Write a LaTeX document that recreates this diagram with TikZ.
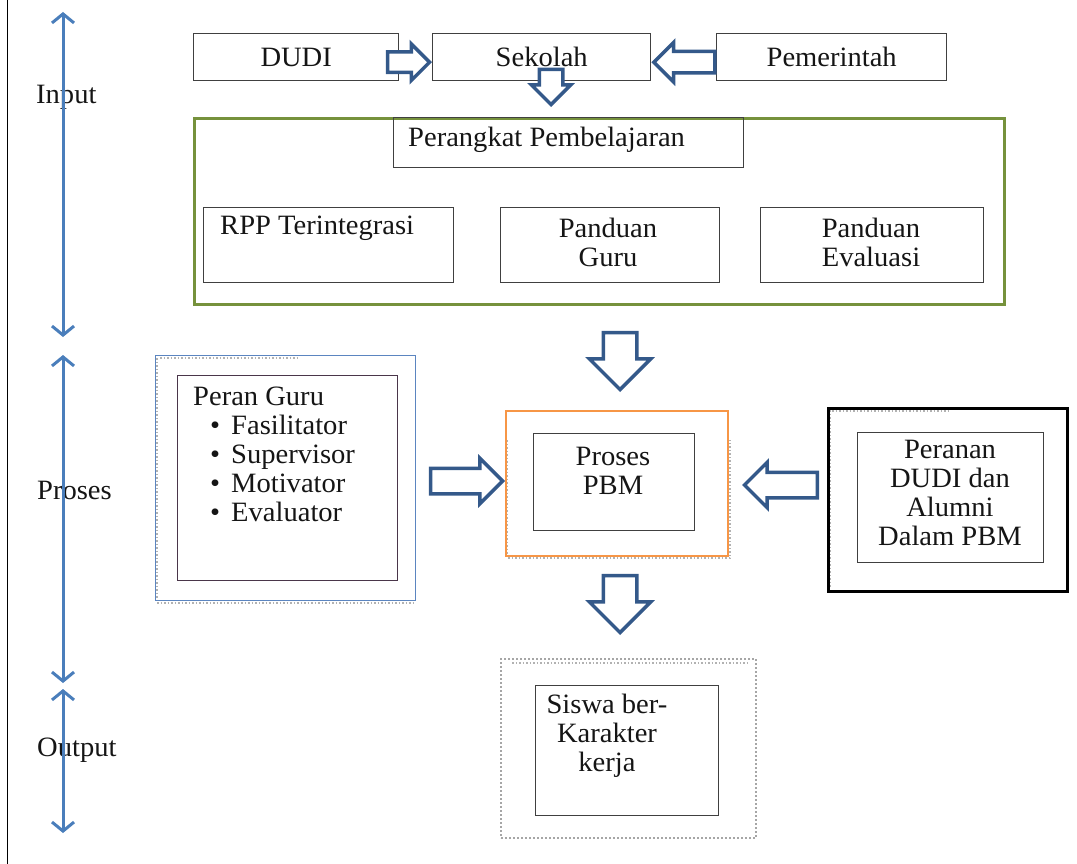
\documentclass[tikz,border=0pt]{standalone}
\usepackage{fontspec}
\setmainfont{Liberation Serif}[FakeStretch=1.02]
\usetikzlibrary{arrows.meta,shapes.arrows}
\definecolor{axisblue}{HTML}{4A7EBB}
\definecolor{arrowblue}{HTML}{34598A}
\definecolor{boxgray}{HTML}{404040}
\definecolor{greenframe}{HTML}{76923C}
\definecolor{orangeframe}{HTML}{F79646}
\definecolor{blueframe}{HTML}{5B85C0}
\definecolor{txt}{HTML}{151515}
\tikzset{
  box/.style={draw=boxgray, line width=1.4pt, rectangle, inner sep=0pt, anchor=north west},
  lbl/.style={inner sep=0pt, text=txt, align=center},
  axis/.style={draw=axisblue, line width=3pt, {Straight Barb[length=9pt,width=22pt]}-{Straight Barb[length=9pt,width=22pt]}},
  barrow/.style={single arrow, draw=arrowblue, fill=white, line width=3.5pt, anchor=tip, single arrow head indent=0pt},
  shadowdots/.style={draw=gray!60, line width=1.5pt, dotted},
}
\begin{document}
\begin{tikzpicture}[x=1pt,y=-1pt, font=\fontsize{28}{29}\selectfont]
\useasboundingbox (0,0) rectangle (1077,864);
\draw[black, line width=1pt] (7,0) -- (7,864);

% left labels
\node[lbl, anchor=west] (linput) at (36,97) {Input};
\node[lbl, anchor=west] (lproses) at (37,490) {Proses};
\node[lbl, anchor=west] (loutput) at (37,750) {Output};

% axis arrows
\coordinate (ax1) at (63,12);
\coordinate (ax2) at (63,337);
\coordinate (ax3) at (63,355);
\coordinate (ax4) at (63,683);
\coordinate (ax5) at (63,689);
\coordinate (ax6) at (63,833);
\draw[axis] (ax1) -- (ax2);
\draw[axis] (ax3) -- (ax4);
\draw[axis] (ax5) -- (ax6);

% input row
\node[box, minimum width=205pt, minimum height=47pt] (dudi) at (193,33) {};
\node[lbl] (tdudi) at (dudi.center) {DUDI};
\node[box, minimum width=218pt, minimum height=47pt] (sekolah) at (432,33) {};
\node[lbl] (tsekolah) at (sekolah.center) {Sekolah};
\node[box, minimum width=230pt, minimum height=47pt] (pemerintah) at (716,33) {};
\node[lbl] (tpemerintah) at (pemerintah.center) {Pemerintah};

% green frame
\node[box, draw=greenframe, line width=3pt, minimum width=810pt, minimum height=186pt] (green) at (193,117) {};
\node[box, minimum width=350pt, minimum height=50pt] (perangkat) at (393,117) {};
\node[lbl, anchor=west] (tperangkat) at (408,140) {Perangkat Pembelajaran};
\node[box, minimum width=250pt, minimum height=75pt] (rpp) at (203,207) {};
\node[lbl, anchor=west] (trpp) at (220,228) {RPP Terintegrasi};
\node[box, minimum width=219pt, minimum height=75pt] (pguru) at (500,207) {};
\node[lbl] (tpguru) at (608,242) {Panduan\\Guru};
\node[box, minimum width=223pt, minimum height=75pt] (peval) at (760,207) {};
\node[lbl] (tpeval) at (871,242) {Panduan\\Evaluasi};

% block arrows top
\node[barrow, minimum height=42pt, inner sep=8.5pt, single arrow head extend=8pt] (a1) at ([yshift=-5pt]sekolah.west) {};
\node[barrow, shape border rotate=180, minimum height=61pt, inner sep=9pt, single arrow head extend=9pt] (a2) at ([yshift=-5pt]sekolah.east) {};
\node[barrow, shape border rotate=270, minimum height=27pt, inner sep=10pt, single arrow head extend=8pt] (a3) at (551,107) {};

% proses row
\draw[shadowdots] (157,358) -- (157,603) -- (413,603);
\draw[shadowdots] (160,358) -- (300,358);
\node[box, draw=blueframe, line width=1.4pt, minimum width=260pt, minimum height=245pt] (guruout) at (155,355) {};
\node[box, draw=boxgray!85!violet, minimum width=220pt, minimum height=205pt] (guruin) at (177,375) {};
\node[lbl, anchor=west, align=left] (tguru) at (193,454) {Peran Guru\\
\hspace*{17pt}\textbullet\hspace*{11pt}Fasilitator\\
\hspace*{17pt}\textbullet\hspace*{11pt}Supervisor\\
\hspace*{17pt}\textbullet\hspace*{11pt}Motivator\\
\hspace*{17pt}\textbullet\hspace*{11pt}Evaluator};

\draw[shadowdots] (507,440) -- (507,558) -- (730,558) -- (730,440);
\node[box, draw=orangeframe, line width=2pt, minimum width=222pt, minimum height=145pt] (pbmout) at (505,410) {};
\node[box, minimum width=161pt, minimum height=97pt] (pbmin) at (533,433) {};
\node[lbl] (tpbm) at (613,471) {Proses\\PBM};

\draw[shadowdots] (830,410) -- (830,588);
\draw[shadowdots] (832,411) -- (950,411);
\node[box, draw=black, line width=2.5pt, minimum width=239pt, minimum height=183pt] (dudiout) at (827,407) {};
\node[box, minimum width=186pt, minimum height=130pt] (dudiin) at (857,432) {};
\node[lbl] (tdudiin) at (950,493) {Peranan\\DUDI dan\\Alumni\\Dalam PBM};

\node[barrow, shape border rotate=270, minimum height=57pt, inner sep=15pt, single arrow head extend=14pt] (a4) at (620,392) {};
\node[barrow, minimum height=72pt, inner sep=11pt, single arrow head extend=10pt] (a5) at (pbmout.west |- 0,481) {};
\node[barrow, shape border rotate=180, minimum height=73pt, inner sep=11pt, single arrow head extend=10pt] (a6) at (742,485) {};
\node[barrow, shape border rotate=270, minimum height=57pt, inner sep=15pt, single arrow head extend=14pt] (a7) at (620,635) {};

% output
\node[box, draw=gray!70, line width=2pt, dotted, minimum width=255pt, minimum height=179pt] (siswaout) at (500,658) {};
\draw[shadowdots] (512,663) -- (748,663);
\node[box, minimum width=183pt, minimum height=130pt] (siswain) at (535,685) {};
\node[lbl] (tsiswa) at (607,736) {Siswa ber-\\Karakter\\kerja};
\end{tikzpicture}
\end{document}
